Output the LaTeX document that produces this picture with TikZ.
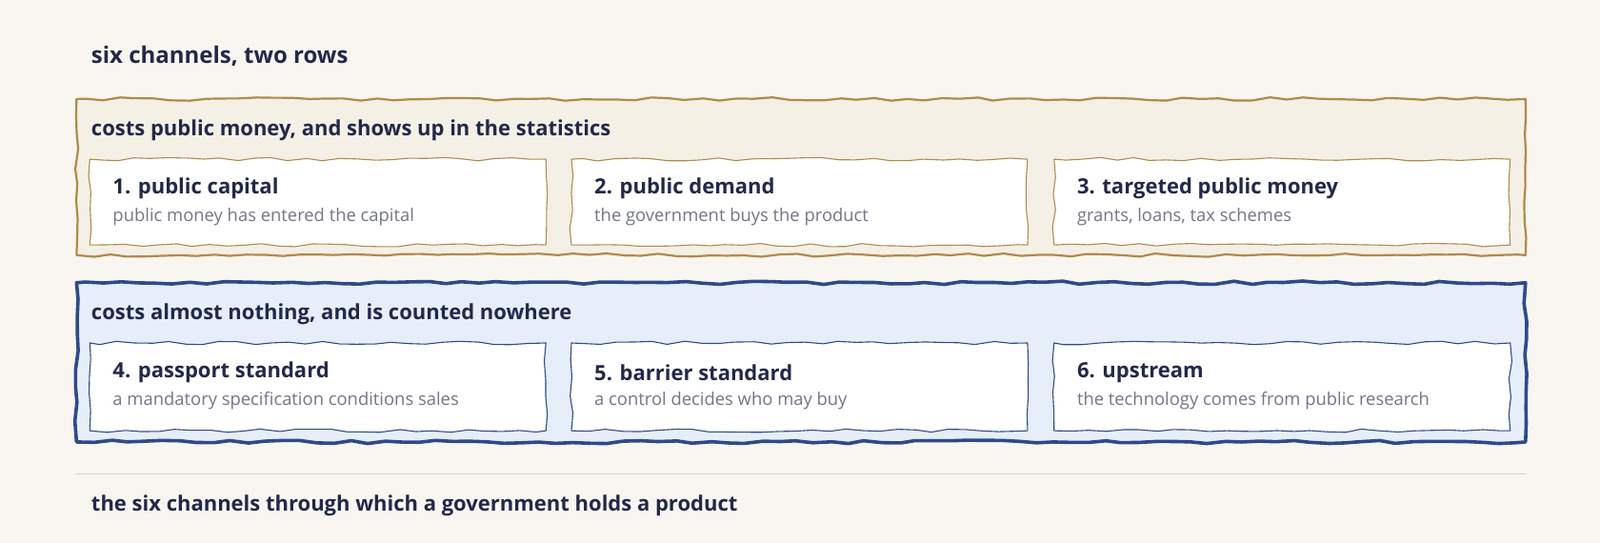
\documentclass[tikz,border=0pt]{standalone}
\usepackage{fontspec}
\setmainfont{Open Sans}
\usetikzlibrary{decorations.pathmorphing}
\definecolor{bg}{HTML}{F9F6F1}
\definecolor{ink}{HTML}{22284A}
\definecolor{sub}{HTML}{737687}
\definecolor{tanf}{HTML}{F5F0E6}
\definecolor{tans}{HTML}{B08A4A}
\definecolor{bluf}{HTML}{E6EEF9}
\definecolor{blus}{HTML}{2E4A8A}
\begin{document}
\begin{tikzpicture}[x=0.5357pt,y=-0.5357pt,
  rough/.style={decorate,decoration={random steps,segment length=9pt,amplitude=0.9pt},line join=round},
  outer/.style={rough,line width=1.1pt},
  card/.style={rough,fill=white,line width=0.55pt},
  head/.style={anchor=west,font=\bfseries\fontsize{11}{13}\selectfont,text=ink},
  ttl/.style={anchor=west,font=\bfseries\fontsize{11}{13}\selectfont,text=ink},
  sb/.style={anchor=west,font=\fontsize{9.2}{11}\selectfont,text=sub}]
\fill[bg] (0,0) rectangle (1568,532);
\useasboundingbox (0,0) rectangle (1568,532);
\node[anchor=west,font=\bfseries\fontsize{12}{14}\selectfont,text=ink] (t) at (83,55) {six channels, two rows};
% row 1
\draw[outer,draw=tans,fill=tanf] (75,97) rectangle (1495,250);
\node[head] (h1) at (83,128) {costs public money, and shows up in the statistics};
\foreach \i/\x/\a/\b in {1/88/1. public capital/public money has entered the capital,
  2/560/2. public demand/the government buys the product,
  3/1033/3. targeted public money/{grants, loans, tax schemes}}{
  \draw[card,draw=tans] (\x,156) rectangle (\x+447,240);
  \node[ttl] (c\i) at (\x+16,185) {\a};
  \node[sb] (s\i) at (\x+16,213) {\b};
}
% row 2
\draw[outer,draw=blus,fill=bluf,line width=1.8pt] (75,277) rectangle (1495,433);
\node[head] (h2) at (83,308) {costs almost nothing, and is counted nowhere};
\foreach \i/\x/\a/\b in {4/88/4. passport standard/a mandatory specification conditions sales,
  5/560/5. barrier standard/a control decides who may buy,
  6/1033/6. upstream/the technology comes from public research}{
  \draw[card,draw=blus] (\x,336) rectangle (\x+447,422);
  \node[ttl] (c\i) at (\x+16,365) {\a};
  \node[sb] (s\i) at (\x+16,393) {\b};
}
\draw[black!18,line width=0.6pt] (75,464) -- (1495,464);
\node[anchor=west,font=\bfseries\fontsize{11}{13}\selectfont,text=ink] (f) at (83,495) {the six channels through which a government holds a product};
\end{tikzpicture}
\end{document}
